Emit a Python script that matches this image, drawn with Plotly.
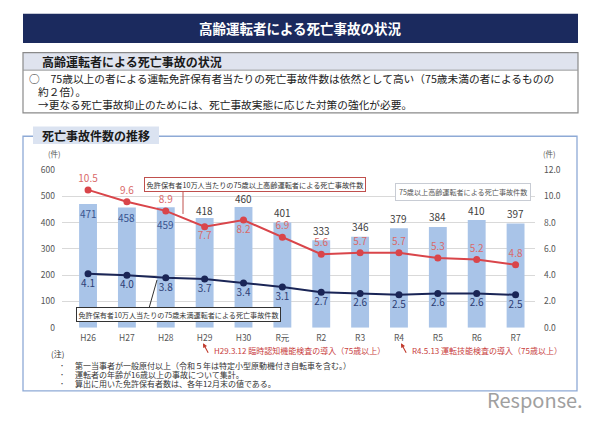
import plotly.graph_objects as go

W, H = 600, 423
def px(x): return x / W
def py(y): return 1 - y / H

# ---- data ----
years = ["H26", "H27", "H28", "H29", "H30", "R元", "R2", "R3", "R4", "R5", "R6", "R7"]
deaths_75plus = [471, 458, 459, 418, 460, 401, 333, 346, 379, 384, 410, 397]
rate_75plus = [10.5, 9.6, 8.9, 7.7, 8.2, 6.9, 5.6, 5.7, 5.7, 5.3, 5.2, 4.8]
rate_under75 = [4.1, 4.0, 3.8, 3.7, 3.4, 3.1, 2.7, 2.6, 2.5, 2.6, 2.6, 2.5]
left_ticks = [0, 100, 200, 300, 400, 500, 600]
right_ticks = [0, 2, 4, 6, 8, 10, 12]

FONT = "Noto Sans CJK JP"
BAR = "#a9c4e8"
RED = "#d9454a"
NAVY = "#1a2556"

# label offsets (style only)
bar_label_shift = [-9, -10, -17, 7, 8, 10, 10, 10, 10, 10, 10, 10]
bar_label_col = ["#3a5590"] * 3 + ["#404040"] * 9
red_label_pos = ["top center"] * 3 + ["bottom center"] * 2 + ["top center"] * 7

fig = go.Figure()
fig.add_trace(go.Bar(x=years, y=deaths_75plus, marker=dict(color=BAR, line=dict(width=0)),
                     width=0.46, yaxis="y", hoverinfo="skip"))
fig.add_trace(go.Scatter(x=years, y=rate_75plus, mode="lines+markers+text", yaxis="y2",
                         line=dict(color=RED, width=2), marker=dict(size=7, color=RED),
                         text=[f"{v:.1f}" for v in rate_75plus], textposition=red_label_pos,
                         textfont=dict(size=10, color="#d96a6a", family=FONT), cliponaxis=False))
fig.add_trace(go.Scatter(x=years, y=rate_under75, mode="lines+markers+text", yaxis="y2",
                         line=dict(color=NAVY, width=2), marker=dict(size=7, color=NAVY),
                         text=[f"{v:.1f}" for v in rate_under75], textposition="bottom center",
                         textfont=dict(size=10, color="#2d3e75", family=FONT), cliponaxis=False))

ann = []
for yr, v, sh, col in zip(years, deaths_75plus, bar_label_shift, bar_label_col):
    ann.append(dict(xref="x", yref="y", x=yr, y=v, yshift=sh, text=str(v), showarrow=False,
                    xanchor="center", yanchor="middle", font=dict(family=FONT, size=10, color=col)))

shapes = []
# title bar
shapes.append(dict(type="rect", xref="paper", yref="paper", x0=px(23), x1=px(578), y0=py(37), y1=py(7),
                   fillcolor="#1b2a5e", line=dict(width=0), layer="below"))
# status box
shapes.append(dict(type="rect", xref="paper", yref="paper", x0=px(23), x1=px(578), y0=py(65), y1=py(47),
                   fillcolor="#dfe3ee", line=dict(width=0), layer="below"))
shapes.append(dict(type="rect", xref="paper", yref="paper", x0=px(23), x1=px(578), y0=py(109), y1=py(47),
                   fillcolor="rgba(0,0,0,0)", line=dict(color="#8a8a8a", width=1.2), layer="above"))
shapes.append(dict(type="line", xref="paper", yref="paper", x0=px(23), x1=px(578), y0=py(65), y1=py(65),
                   line=dict(color="#9a9a9a", width=1)))
# chart section box
shapes.append(dict(type="rect", xref="paper", yref="paper", x0=px(23), x1=px(577), y0=py(395), y1=py(133),
                   fillcolor="rgba(0,0,0,0)", line=dict(color="#8eaad6", width=1.3), layer="below"))
shapes.append(dict(type="rect", xref="paper", yref="paper", x0=px(33), x1=px(159), y0=py(141), y1=py(123),
                   fillcolor="#dbe3f1", line=dict(width=0), layer="above"))
# connectors of callouts
shapes.append(dict(type="line", xref="paper", yref="paper", x0=px(183), x1=px(183), y0=py(189), y1=py(213),
                   line=dict(color="#c0504d", width=1)))
shapes.append(dict(type="line", xref="paper", yref="paper", x0=px(149), x1=px(157), y0=py(310), y1=py(281),
                   line=dict(color="#333333", width=1)))

def text(x, y, s, size=8, color="#222", bold=False, xanchor="left", **kw):
    ann.append(dict(xref="paper", yref="paper", x=px(x), y=py(y), text=f"<b>{s}</b>" if bold else s,
                    showarrow=False, xanchor=xanchor, yanchor="middle",
                    font=dict(family=FONT, size=size, color=color), **kw))

text(300, 22, "高齢運転者による死亡事故の状況", size=13.5, color="white", bold=True, xanchor="center")
text(40, 56, "高齢運転者による死亡事故の状況", size=12, color="#1a1a1a", bold=True)
text(27, 74, "○　75歳以上の者による運転免許保有者当たりの死亡事故件数は依然として高い（75歳未満の者によるものの", size=10.7)
text(36, 87, "約２倍）。", size=10.7)
text(36, 100, "→更なる死亡事故抑止のためには、死亡事故実態に応じた対策の強化が必要。", size=10.7)
text(40, 132, "死亡事故件数の推移", size=12, color="#1a1a1a", bold=True)

text(55, 151, "(件)", size=7.5, color="#555", xanchor="center")
text(549, 151, "(件)", size=7.5, color="#555", xanchor="center")

# callout boxes
ann.append(dict(xref="paper", yref="paper", x=px(255), y=py(183), showarrow=False, xanchor="center", yanchor="middle",
                text="免許保有者10万人当たりの75歳以上高齢運転者による死亡事故件数",
                font=dict(family=FONT, size=7.2, color="#333"), bgcolor="white",
                bordercolor="#c0504d", borderwidth=1, borderpad=1.5))
ann.append(dict(xref="paper", yref="paper", x=px(178), y=py(316), showarrow=False, xanchor="center", yanchor="middle",
                text="免許保有者10万人当たりの75歳未満運転者による死亡事故件数",
                font=dict(family=FONT, size=7.1, color="#333"), bgcolor="white",
                bordercolor="#333333", borderwidth=1, borderpad=1.5))
ann.append(dict(xref="paper", yref="paper", x=px(463), y=py(190.5), showarrow=False, xanchor="center", yanchor="middle",
                text="75歳以上高齢運転者による死亡事故件数",
                font=dict(family=FONT, size=7.1, color="#555"), bgcolor="white",
                bordercolor="#c8ccd4", borderwidth=1, borderpad=3))

# event notes with arrows
for hx, hy, tx, ty in [(203, 346, 209, 357), (401, 346, 407, 357)]:
    ann.append(dict(xref="paper", yref="paper", x=px(hx), y=py(hy), ax=tx - hx, ay=ty - hy, text="",
                    showarrow=True, arrowhead=2, arrowsize=0.8, arrowwidth=1.1, arrowcolor="#c0392b"))
text(212, 354, "H29.3.12 臨時認知機能検査の導入（75歳以上）", size=8, color="#c83c3c")
text(410, 354, "R4.5.13 運転技能検査の導入（75歳以上）", size=8, color="#c83c3c")

text(49, 357, "(注)", size=8, color="#333")
notes = ["第一当事者が一般原付以上（令和５年は特定小型原動機付き自転車を含む。）",
         "運転者の年齢が16歳以上の事故について集計。",
         "算出に用いた免許保有者数は、各年12月末の値である。"]
for i, n in enumerate(notes):
    yy = 369 + 9 * i
    text(62, yy, "・", size=6, color="#333", xanchor="center")
    text(73, yy, n, size=8, color="#333")

text(535, 404, "Response.", size=20, color="#a0a0a0", xanchor="center")

fig.update_layout(
    width=W, height=H, autosize=False, margin=dict(l=0, r=0, t=0, b=0),
    paper_bgcolor="white", plot_bgcolor="white", showlegend=False,
    font=dict(family=FONT),
    xaxis=dict(domain=[px(62), px(535)], range=[-0.67, 11.5], type="category",
               showgrid=False, zeroline=False, showline=False, ticks="",
               tickfont=dict(size=8.5, color="#555"), ticklabelstandoff=4),
    yaxis=dict(domain=[py(330), py(168)], range=[0, 600], tickvals=left_ticks,
               showgrid=True, gridcolor="#d9d9d9", gridwidth=1, zeroline=False, showline=False, ticks="",
               tickfont=dict(size=8.5, color="#555"), ticklabelstandoff=6),
    yaxis2=dict(overlaying="y", side="right", range=[0, 12], tickvals=right_ticks, tickformat=".1f",
                showgrid=False, zeroline=False, showline=False, ticks="",
                tickfont=dict(size=8.5, color="#555"), ticklabelstandoff=8, anchor="x"),
    shapes=shapes, annotations=ann,
)
fig.write_html("out.html", config={"displayModeBar": False},
               post_script="document.body.style.margin='0';document.body.style.overflow='hidden';")
